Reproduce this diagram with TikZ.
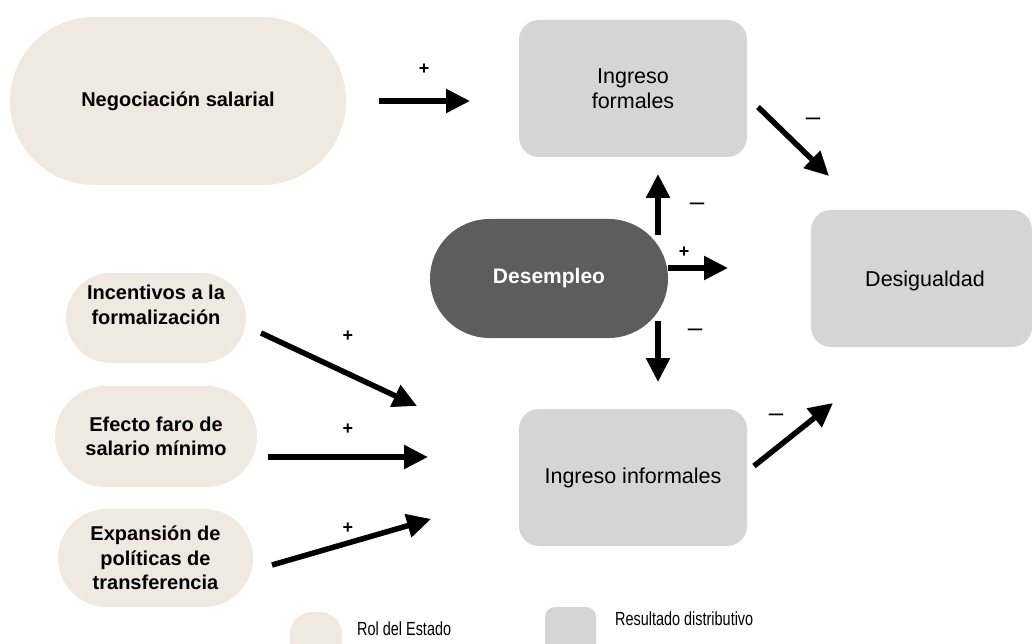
\documentclass[tikz,border=0pt]{standalone}
\usepackage{fontspec}
\setmainfont{Liberation Sans}
\newfontfamily\legfont[FakeStretch=0.76]{Liberation Sans}
\usetikzlibrary{arrows.meta,shapes.misc}
\definecolor{beige}{HTML}{EFE9E1}
\definecolor{boxgray}{HTML}{D5D5D5}
\definecolor{darkgray}{HTML}{5D5D5D}
\begin{document}
\begin{tikzpicture}[x=1pt,y=-1pt,
  pill/.style={rounded rectangle, fill=beige, inner sep=0pt, outer sep=0pt},
  graybox/.style={rectangle, rounded corners=20pt, fill=boxgray, inner sep=0pt, outer sep=0pt},
  boldtxt/.style={font=\bfseries\fontsize{20}{24.5}\selectfont, align=center, text=black},
  regtxt/.style={font=\fontsize{21.5}{25}\selectfont, align=center, text=black},
  arr/.style={line width=5.5pt, -{Triangle[length=24pt,width=23pt]}},
  plus/.style={font=\bfseries\fontsize{18}{18}\selectfont, inner sep=0pt},
  minus/.style={font=\fontsize{26}{26}\selectfont, inner sep=0pt},
  legtxt/.style={font=\legfont\fontsize{19}{22}\selectfont, inner sep=0pt, anchor=base west}
]
\useasboundingbox (0,0) rectangle (1032,644);
\clip (0,0) rectangle (1032,644);
\fill[white] (0,0) rectangle (1032,644);

% State role nodes
\node[pill, boldtxt, minimum width=336pt, minimum height=168pt] (neg) at (178,101) {Negociación salarial};
\node[pill, minimum width=180pt, minimum height=90pt] (inc) at (156,318) {};
\node[boldtxt] (inctxt) at (156,305) {Incentivos a la\\formalización};
\node[pill, boldtxt, minimum width=202pt, minimum height=101pt] (efe) at (156,436.5) {Efecto faro de\\salario mínimo};
\node[pill, boldtxt, minimum width=195pt, minimum height=98pt] (exp) at (155.5,558) {Expansión de\\políticas de\\transferencia};

% Distributive outcome nodes
\node[graybox, regtxt, minimum width=228pt, minimum height=137pt] (forml) at (633,88.5) {Ingreso\\formales};
\node[graybox, regtxt, minimum width=228pt, minimum height=137pt] (infor) at (633,477.5) {Ingreso informales};
\node[graybox, minimum width=221pt, minimum height=137pt] (desig) at (921.5,278.5) {};
\node[regtxt] (desigtxt) at (925,281) {Desigualdad};

% Unemployment
\node[rounded rectangle, fill=darkgray, inner sep=0pt, minimum width=238pt, minimum height=119pt,
      font=\bfseries\fontsize{21}{24}\selectfont, text=white] (desem) at (549,278.5) {Desempleo};

% Arrow end points
\coordinate (a1s) at (379,101);  \coordinate (a1e) at (470,101);
\coordinate (a2s) at (758,107);  \coordinate (a2e) at (829,176);
\coordinate (a3s) at (658,235);  \coordinate (a3e) at (658,174);
\coordinate (a4s) at (668,268);  \coordinate (a4e) at (728,268);
\coordinate (a5s) at (658,321);  \coordinate (a5e) at (658,382);
\coordinate (a6s) at (754,466);  \coordinate (a6e) at (833,403);
\coordinate (a7s) at (261,333);  \coordinate (a7e) at (417,406);
\coordinate (a8s) at (268,457);  \coordinate (a8e) at (428,457);
\coordinate (a9s) at (272,565);  \coordinate (a9e) at (431,519);

\draw[arr] (a1s) -- (a1e);
\draw[arr] (a2s) -- (a2e);
\draw[arr] (a3s) -- (a3e);
\draw[arr] (a4s) -- (a4e);
\draw[arr] (a5s) -- (a5e);
\draw[arr] (a6s) -- (a6e);
\draw[arr] (a7s) -- (a7e);
\draw[arr] (a8s) -- (a8e);
\draw[arr] (a9s) -- (a9e);

% Signs
\node[plus] (s1) at (424,69) {+};
\node[minus] (s2) at (813,122) {–};
\node[minus] (s3) at (697,207) {–};
\node[plus] (s4) at (684,252) {+};
\node[minus] (s5) at (695,333) {–};
\node[minus] (s6) at (776,418) {–};
\node[plus] (s7) at (348,336) {+};
\node[plus] (s8) at (348,429) {+};
\node[plus] (s9) at (348,528) {+};

% Legend
\node[rectangle, rounded corners=22pt, fill=beige, inner sep=0pt, minimum width=52pt, minimum height=60pt] (legrol) at (316,642) {};
\node[legtxt] (legroltxt) at (357,635) {Rol del Estado};
\node[rectangle, rounded corners=10pt, fill=boxgray, inner sep=0pt, minimum width=51pt, minimum height=60pt] (legres) at (570.5,637) {};
\node[legtxt] (legrestxt) at (615,625) {Resultado distributivo};
\end{tikzpicture}
\end{document}
